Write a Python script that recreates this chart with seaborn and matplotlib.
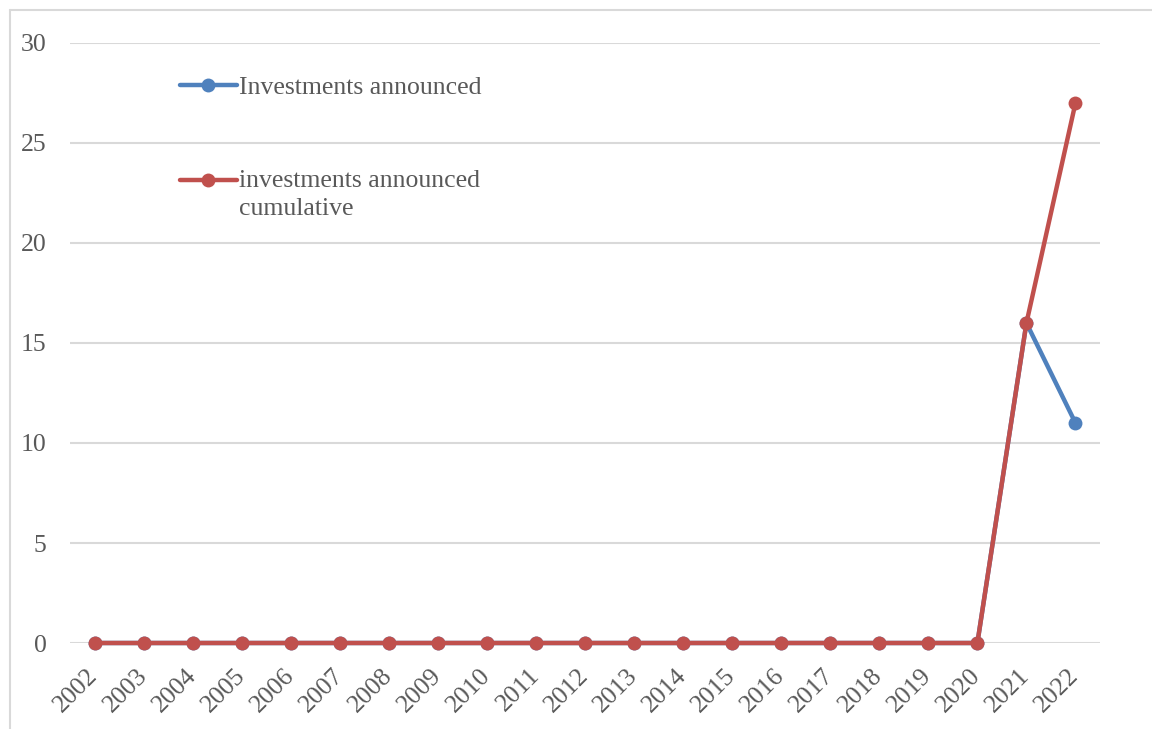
import matplotlib
matplotlib.use("Agg")
import matplotlib.pyplot as plt
from matplotlib.lines import Line2D
from matplotlib.legend_handler import HandlerLine2D
import numpy as np
import seaborn as sns
import pandas as pd

years = [str(y) for y in range(2002, 2023)]
announced = [0]*19 + [16, 11]
cumulative = [0]*19 + [16, 27]
label_announced = "Investments announced"
label_cumulative = "investments announced\ncumulative"

sns.set_theme(style="white")
plt.rcParams['font.family'] = ['Liberation Serif', 'DejaVu Serif']

BLUE = "#4F81BD"
RED = "#C0504D"
TXT = "#595959"
GRID = "#D9D9D9"
FS = 18.5

fig = plt.figure(figsize=(11.52, 7.29), dpi=100)
ax = fig.add_axes([70/1152, 1-643/729, 1030/1152, 600/729])

df = pd.DataFrame({"year": years, "a": announced, "c": cumulative})
sns.lineplot(data=df, x="year", y="a", ax=ax, color=BLUE, lw=3.2, marker="o",
             markersize=10, markeredgewidth=0, label=label_announced, sort=False)
sns.lineplot(data=df, x="year", y="c", ax=ax, color=RED, lw=3.2, marker="o",
             markersize=10, markeredgewidth=0, label=label_cumulative, sort=False)

ax.set_xlim(-0.5, len(years)-0.5)
ax.set_ylim(0, 30)
ax.set_yticks([0, 5, 10, 15, 20, 25, 30])
ax.yaxis.grid(True, color=GRID, lw=1.5)
ax.set_axisbelow(True)
for s in ax.spines.values():
    s.set_visible(False)
ax.set_xlabel("")
ax.set_ylabel("")
ax.tick_params(axis="both", length=0, colors=TXT, labelsize=FS)
ax.tick_params(axis="y", pad=17)
ax.tick_params(axis="x", pad=21)
for lab in ax.get_xticklabels():
    lab.set_rotation(45)
    lab.set_ha("right")
    lab.set_rotation_mode("anchor")
    lab.set_va("center")
for l in ax.lines:
    l.set_clip_on(False)


class ShiftHandler(HandlerLine2D):
    def __init__(self, dy=0.0, **kw):
        super().__init__(**kw)
        self.dy = dy

    def create_artists(self, legend, orig_handle, xdescent, ydescent, width,
                       height, fontsize, trans):
        arts = super().create_artists(legend, orig_handle, xdescent, ydescent,
                                      width, height, fontsize, trans)
        for a in arts:
            a.set_ydata(np.asarray(a.get_ydata(), dtype=float) + self.dy * fontsize)
        return arts


handles, labels = ax.get_legend_handles_labels()
leg = ax.legend(handles, labels, loc="upper left", bbox_to_anchor=(0.107, 0.945),
                frameon=False, fontsize=FS, labelcolor=TXT, handlelength=2.2,
                handletextpad=0.1, labelspacing=2.76, borderpad=0, borderaxespad=0,
                handler_map={handles[1]: ShiftHandler(dy=0.56)})
leg.get_texts()[1].set_linespacing(1.35)

fig.add_artist(Line2D([10/1152, 10/1152], [0, 1-10/729], transform=fig.transFigure,
                      color=GRID, lw=1.5))
fig.add_artist(Line2D([10/1152, 1], [1-10/729, 1-10/729], transform=fig.transFigure,
                      color=GRID, lw=1.5))

fig.savefig("out.png", dpi=100)
